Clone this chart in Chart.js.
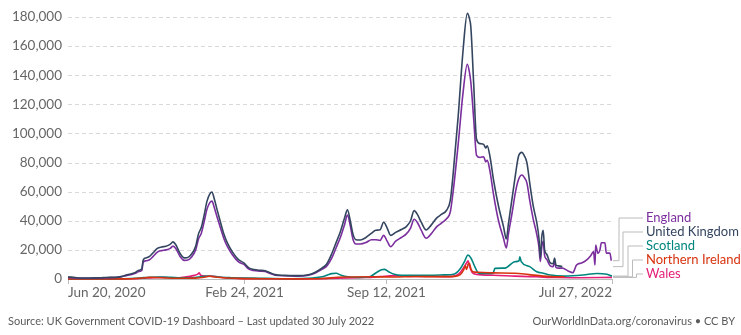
<!DOCTYPE html>
<html>
<head>
<meta charset="utf-8">
<script src="https://cdn.jsdelivr.net/npm/chart.js@4.4.0/dist/chart.umd.min.js"></script>
<style>
  html, body { margin: 0; padding: 0; background: #fff; }
  #wrap { position: relative; width: 741px; height: 335px; }
  .note { position: absolute; top: 314px; font: 11px Lato, sans-serif; color: #5b5b5b; white-space: nowrap; }
</style>
</head>
<body>
<div id="wrap">
  <canvas id="chart"></canvas>
  <div class="note" style="left:8px">Source: UK Government COVID-19 Dashboard – Last updated 30 July 2022</div>
  <div class="note" style="right:6px">OurWorldInData.org/coronavirus • CC BY</div>
</div>
<script>
// days counted from Jun 20, 2020
const lastDay = 767;
const tickDays = [0, 249, 449, 767];
const tickLabels = ["Jun 20, 2020", "Feb 24, 2021", "Sep 12, 2021", "Jul 27, 2022"];
const yTicks = [0, 20000, 40000, 60000, 80000, 100000, 120000, 140000, 160000, 180000];

const ukDays = [0, 10, 20, 30, 40, 50, 60, 70, 76, 82, 88, 94, 100, 104, 106, 110, 115, 120, 126, 132, 138, 144, 148, 152, 158, 164, 168, 174, 180, 184, 188, 192, 196, 200, 203, 206, 210, 215, 220, 225, 232, 240, 248, 255, 262, 270, 278, 285, 292, 305, 320, 335, 343, 350, 358, 365, 372, 378, 384, 390, 394, 398, 402, 406, 412, 420, 428, 434, 440, 445, 450, 455, 462, 470, 477, 483, 488, 493, 498, 505, 512, 520, 527, 534, 539, 543, 550, 557, 563, 566, 568, 572, 576, 581, 586, 589, 591, 595, 600, 607, 614, 618, 621, 626, 631, 635, 640, 643, 647, 651, 656, 661, 664, 666, 668, 670, 672, 675, 680, 684, 686, 688, 692, 697];
const ukCases = [1400, 1000, 700, 700, 800, 950, 1100, 1300, 1800, 2700, 3400, 4300, 6000, 6900, 13000, 14500, 15500, 18000, 21000, 22000, 22500, 23800, 25500, 23500, 17500, 14500, 14600, 17000, 22500, 31000, 35500, 44000, 53500, 58500, 59800, 55500, 48000, 39000, 30500, 24500, 18500, 13500, 11000, 7600, 6500, 6000, 5700, 4300, 3000, 2500, 2300, 2600, 3500, 5000, 7500, 10500, 17500, 25000, 32500, 42000, 47500, 40000, 30500, 27000, 26800, 28500, 31500, 33500, 33800, 39000, 35000, 30000, 32000, 34000, 36000, 40000, 47000, 44000, 39000, 33700, 37000, 42000, 44500, 47400, 54000, 72000, 111000, 157000, 182500, 179000, 173000, 134000, 96000, 93000, 92500, 90000, 91500, 84000, 68000, 50000, 36000, 27500, 38000, 55000, 72000, 84000, 87000, 85000, 80000, 66000, 50000, 38500, 28000, 14500, 29000, 33500, 20000, 17000, 11000, 10500, 14400, 9600, 9000, 8500];

const engDays = [0, 10, 20, 30, 40, 50, 60, 70, 76, 82, 88, 94, 100, 104, 106, 110, 115, 120, 126, 132, 138, 144, 148, 152, 158, 164, 168, 174, 180, 184, 188, 192, 196, 200, 203, 206, 210, 215, 220, 225, 232, 240, 248, 255, 262, 270, 278, 285, 292, 305, 320, 335, 343, 350, 358, 365, 372, 378, 384, 390, 394, 398, 402, 406, 412, 420, 428, 434, 440, 445, 450, 455, 462, 470, 477, 483, 488, 493, 498, 505, 512, 520, 527, 534, 539, 543, 550, 557, 563, 566, 568, 572, 576, 581, 586, 589, 591, 595, 600, 607, 614, 618, 621, 626, 631, 635, 640, 643, 647, 651, 656, 661, 664, 666, 668, 670, 672, 675, 680, 684, 686, 688, 692, 697, 705, 712, 713, 717, 724, 731, 737, 741, 743, 744, 747, 750, 752, 757, 759, 764, 766];
const engCases = [1100, 800, 550, 550, 650, 800, 950, 1150, 1600, 2300, 2900, 3700, 5100, 5800, 11500, 12500, 13200, 15500, 18500, 19500, 20000, 21000, 22600, 21000, 15500, 12800, 12900, 15000, 20000, 27500, 31500, 39500, 48000, 52500, 53500, 49500, 43000, 35000, 27500, 22000, 16500, 12000, 10000, 6800, 5800, 5400, 5100, 3800, 2600, 2200, 2000, 2300, 3100, 4500, 6700, 9000, 14500, 21500, 28500, 37500, 44000, 36500, 27000, 24000, 24000, 25000, 27000, 27000, 26500, 30000, 26000, 22200, 26000, 28500, 31000, 35000, 41000, 38500, 33500, 28000, 31000, 36000, 38500, 41500, 46000, 60000, 92000, 128000, 147500, 142000, 135000, 110000, 85000, 83500, 84000, 80500, 81500, 74000, 58000, 40000, 28000, 21300, 31000, 45000, 60000, 68000, 71400, 70000, 66000, 54000, 41000, 30500, 22000, 12000, 22000, 26000, 16000, 13500, 9000, 8500, 11500, 8000, 7500, 7500, 5500, 4300, 5000, 9600, 11000, 13000, 16000, 18800, 9600, 23400, 17700, 20000, 24900, 24900, 17800, 17800, 12600];

const scoDays = [0, 30, 60, 80, 95, 105, 115, 130, 145, 160, 175, 190, 200, 212, 230, 250, 280, 310, 330, 345, 358, 366, 372, 378, 385, 395, 410, 425, 435, 442, 446, 452, 460, 470, 490, 510, 530, 545, 553, 559, 564, 568, 574, 579, 599, 602, 616, 630, 636, 637, 639, 651, 661, 670, 680, 700, 726, 746, 760, 767];
const scoCases = [20, 20, 40, 150, 500, 900, 1200, 1300, 1100, 800, 900, 1700, 2100, 1400, 900, 600, 400, 200, 300, 700, 1500, 2800, 3700, 3900, 2600, 1500, 1100, 1500, 4500, 6300, 6600, 5000, 3200, 2500, 2600, 2500, 2800, 3500, 7000, 12000, 16500, 14500, 8000, 4000, 3800, 7300, 7500, 11900, 12500, 15300, 12000, 8500, 5000, 4000, 2700, 2000, 2700, 3800, 3200, 2000];

const niDays = [0, 60, 90, 105, 115, 125, 140, 160, 180, 195, 200, 205, 215, 240, 280, 320, 360, 380, 400, 430, 460, 490, 520, 545, 553, 558, 560, 562, 564, 566, 568, 571, 578, 600, 630, 650, 670, 690, 700];
const niCases = [10, 60, 200, 700, 1100, 1000, 700, 500, 600, 1500, 2000, 1600, 1000, 450, 150, 100, 350, 1200, 1400, 1500, 1400, 1700, 1600, 1800, 3000, 6500, 9000, 6500, 10000, 10800, 7000, 5000, 4600, 4200, 4000, 3000, 2000, 1500, 1500];

const walDays = [0, 60, 90, 105, 120, 135, 150, 165, 178, 183, 185, 187, 195, 205, 220, 240, 270, 310, 350, 380, 420, 440, 460, 480, 500, 530, 545, 553, 558, 562, 564, 566, 570, 576, 600, 630, 660, 690, 720, 767];
const walCases = [30, 40, 150, 500, 900, 1100, 700, 1300, 2500, 3300, 4300, 2600, 2000, 1800, 900, 400, 200, 80, 200, 600, 1000, 1600, 2300, 1800, 1800, 1600, 2000, 4500, 8000, 11000, 12500, 9000, 4500, 3200, 2600, 2000, 1500, 1000, 900, 1100];

const seriesNames = ["England", "United Kingdom", "Scotland", "Northern Ireland", "Wales"];
const seriesColors = ["#7b2e9e", "#34455f", "#00857e", "#d7330f", "#e51d76"];
const seriesData = [[engDays, engCases], [ukDays, ukCases], [scoDays, scoCases], [niDays, niCases], [walDays, walCases]];
const drawOrder = [1, 0, 3, 2, 4];

// where the end labels sit and where their connector bends
const labelY = [218, 232, 246, 260, 274];
const bendX = [619, 623, 628, 632.5, 636.5];

const FONT = "Lato, 'Noto Sans', sans-serif";

// dashed horizontal grid
const dashedGrid = {
  id: "dashedGrid",
  beforeDatasetsDraw(chart) {
    const { ctx, chartArea, scales } = chart;
    ctx.save();
    ctx.strokeStyle = "#d9d9d9";
    ctx.lineWidth = 1;
    ctx.setLineDash([4, 3]);
    yTicks.forEach(v => {
      if (v === 0) return;
      const py = Math.round(scales.y.getPixelForValue(v)) + 0.5;
      ctx.beginPath();
      ctx.moveTo(chartArea.left, py);
      ctx.lineTo(chartArea.right, py);
      ctx.stroke();
    });
    ctx.restore();
  }
};

const endLabels = {
  id: "endLabels",
  afterDraw(chart) {
    const { ctx, chartArea, scales } = chart;
    ctx.save();
    // x tick labels: first left aligned, last right aligned
    ctx.font = "13.5px " + FONT;
    ctx.fillStyle = "#666";
    ctx.textBaseline = "middle";
    tickDays.forEach((d, i) => {
      const px = scales.x.getPixelForValue(d);
      ctx.textAlign = i === 0 ? "left" : (i === tickDays.length - 1 ? "right" : "center");
      ctx.fillText(tickLabels[i], px, 293);
    });

    ctx.font = "13px " + FONT;
    ctx.textAlign = "left";
    chart.data.datasets.forEach((ds, i) => {
      const last = ds.data[ds.data.length - 1];
      const py = scales.y.getPixelForValue(last.y);
      ctx.strokeStyle = "#bbb";
      ctx.lineWidth = 1;
      ctx.beginPath();
      ctx.moveTo(chartArea.right + 1, py);
      ctx.lineTo(bendX[i], py);
      ctx.lineTo(bendX[i], labelY[i]);
      ctx.lineTo(643, labelY[i]);
      ctx.stroke();
      ctx.fillStyle = seriesColors[i];
      ctx.fillText(seriesNames[i], 646, labelY[i]);
    });
    ctx.restore();
  }
};

new Chart(document.getElementById("chart"), {
  type: "line",
  data: {
    datasets: seriesNames.map((name, i) => ({
      label: name,
      data: seriesData[i][0].map((d, j) => ({ x: d, y: seriesData[i][1][j] })),
      borderColor: seriesColors[i],
      borderWidth: 1.6,
      pointRadius: 0,
      cubicInterpolationMode: "monotone",
      clip: false,
      order: drawOrder[i]
    }))
  },
  options: {
    responsive: true,
    maintainAspectRatio: false,
    animation: false,
    events: [],
    layout: { padding: { left: 0, top: 17, right: 129, bottom: 36 } },
    plugins: { legend: { display: false }, tooltip: { enabled: false } },
    scales: {
      x: {
        type: "linear",
        min: 0,
        max: lastDay,
        afterBuildTicks: (scale) => { scale.ticks = tickDays.map(v => ({ value: v })); },
        afterFit: (scale) => { scale.height = 20; scale.paddingLeft = 0; scale.paddingRight = 0; },
        ticks: { display: false },
        grid: { drawOnChartArea: false, drawTicks: true, tickLength: 5, color: "#bbb" },
        border: { display: true, color: "#bbb" }
      },
      y: {
        min: 0,
        max: 180000,
        afterBuildTicks: (scale) => { scale.ticks = yTicks.map(v => ({ value: v })); },
        afterFit: (scale) => { scale.width = 68; },
        ticks: {
          padding: 6,
          color: "#666",
          font: { family: FONT, size: 13.5 },
          callback: (v) => v.toLocaleString("en-US")
        },
        grid: { display: false, drawTicks: false },
        border: { display: false }
      }
    }
  },
  plugins: [dashedGrid, endLabels]
});
</script>
</body>
</html>
